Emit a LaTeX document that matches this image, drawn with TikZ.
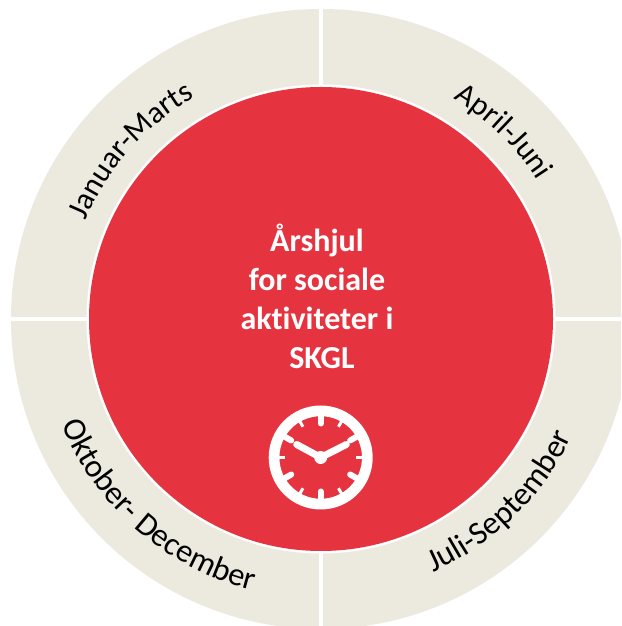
\documentclass[tikz,border=0pt]{standalone}
\usepackage{fontspec}
\setmainfont[Ligatures=NoCommon]{Carlito}
\usetikzlibrary{decorations.text}
\definecolor{wheelbeige}{HTML}{ECEADF}
\definecolor{wheelred}{HTML}{E63340}
\newcommand{\seasonfont}{\fontsize{31}{31}\selectfont}
\newcommand{\seasonfontbig}{\fontsize{32.5}{32.5}\selectfont}
\tikzset{
  season/.style={decorate,decoration={text along path,text align=center,text color=black,text={#1}}},
  gapline/.style={draw=white,line width=4pt},
  handline/.style={draw=white,line width=7pt,line cap=round},
  majortick/.style={draw=white,line width=6pt,line cap=round},
  minortick/.style={draw=white,line width=3pt}
}
\begin{document}
\begin{tikzpicture}[x=1pt,y=1pt]
\useasboundingbox (0,0) rectangle (621,626);
\fill[white] (0,0) rectangle (621,626);
\begin{scope}
\clip (0,0) rectangle (621,626);
\coordinate (c) at (321,307);
\fill[wheelbeige] (c) circle[radius=310];
\draw[gapline] (c) -- ++(0,320);
\draw[gapline] (c) -- ++(0,-320);
\draw[gapline] (c) -- ++(320,0);
\draw[gapline] (c) -- ++(-320,0);
\fill[white] (c) circle[radius=234.5];
\fill[wheelred] (c) circle[radius=232];
\end{scope}
\path[season={|\seasonfont|Januar-Marts}] (c) ++(188.5:255) arc[start angle=188.5,end angle=88.5,radius=255];
\path[season={|\seasonfont|April-Juni}] (c) ++(95.7:257) arc[start angle=95.7,end angle=-4.3,radius=257];
\path[season={|\seasonfontbig|Juli-September}] (c) ++(-95.6:277) arc[start angle=-95.6,end angle=4.4,radius=277];
\path[season={|\seasonfontbig|Oktober- December}] (c) ++(179:280) arc[start angle=179,end angle=279,radius=280];
\node[text=white,font=\bfseries\fontsize{32}{39}\selectfont,align=center,inner sep=0pt] (title) at (317,330)
  {Årshjul\\for sociale\\aktiviteter i\\\hspace*{10pt}SKGL};
% clock
\coordinate (k) at (320.7,168.5);
\fill[white,even odd rule] (k) circle[radius=52] (k) circle[radius=41.3];
\foreach \a in {0,60,...,300}{
  \draw[majortick] (k) ++(90+\a:42) -- ++(90+\a:-8);
}
\foreach \a in {30,90,...,330}{
  \draw[minortick] (k) ++(90+\a:42) -- ++(90+\a:-6.5);
}
\draw[handline] (k) -- ++(25.6,13);
\draw[handline] (k) -- ++(-24,13);
\fill[white] (k) circle[radius=6.5];
\end{tikzpicture}
\end{document}
